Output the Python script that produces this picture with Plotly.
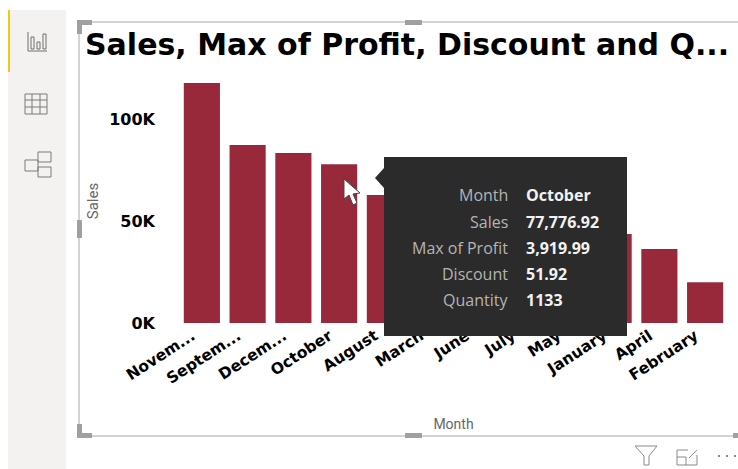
import plotly.graph_objects as go

W, H = 738, 469

months = ['Novem...', 'Septem...', 'Decem...', 'October', 'August', 'March',
          'June', 'July', 'May', 'January', 'April', 'February']
sales = [117600, 87300, 83300, 77776.92, 62800, 58000,
         52000, 47000, 45500, 43600, 36300, 20000]
y_ticks = [0, 50000, 100000]
y_tick_labels = ['0K', '50K', '100K']

tip_labels = ['Month', 'Sales', 'Max of Profit', 'Discount', 'Quantity']
tip_values = ['October', '77,776.92', '3,919.99', '51.92', '1133']

BAR = '#98293b'
GREY = '#8c8c8c'


def px(x):
    return x / W


def py(y):
    return 1 - y / H


def rect(x0, y0, x1, y1, fill=None, line=None, width=1):
    return dict(type='rect', xref='paper', yref='paper',
                x0=px(x0), y0=py(y0), x1=px(x1), y1=py(y1),
                fillcolor=fill or 'rgba(0,0,0,0)',
                line=dict(color=line or 'rgba(0,0,0,0)', width=width if line else 0))


def seg(x0, y0, x1, y1, color=GREY, width=1):
    return dict(type='line', xref='paper', yref='paper',
                x0=px(x0), y0=py(y0), x1=px(x1), y1=py(y1),
                line=dict(color=color, width=width))


def poly(points, fill=None, line=None, width=1, close=True):
    d = 'M ' + ' L '.join(f'{px(x):.5f},{py(y):.5f}' for x, y in points)
    if close:
        d += ' Z'
    return dict(type='path', xref='paper', yref='paper', path=d,
                fillcolor=fill or 'rgba(0,0,0,0)',
                line=dict(color=line or 'rgba(0,0,0,0)', width=width if line else 0))


shapes = []

# side panel
shapes.append(rect(8, 10, 66, 469, fill='#f3f2f1'))
shapes.append(rect(8, 10, 10, 72, fill='#f2c811'))

# report view icon
shapes.append(seg(28, 32, 28, 51, '#6e6e6e'))
shapes.append(seg(28, 51, 47, 51, '#6e6e6e'))
shapes.append(rect(31, 37, 34, 49, line='#6e6e6e'))
shapes.append(rect(37, 42, 40, 49, line='#6e6e6e'))
shapes.append(rect(43, 34, 46, 49, line='#6e6e6e'))

# data view icon
shapes.append(rect(25, 94, 47, 114, line='#7a7a7a'))
for gy in [100, 107]:
    shapes.append(seg(25, gy, 47, gy, '#7a7a7a'))
for gx in [32, 40]:
    shapes.append(seg(gx, 94, gx, 114, '#7a7a7a'))

# model view icon
shapes.append(rect(25, 160, 38, 171, line='#7a7a7a'))
shapes.append(rect(38, 152, 51, 162, line='#7a7a7a'))
shapes.append(rect(38, 167, 51, 177, line='#7a7a7a'))

# selection frame and handles
shapes.append(seg(79, 22, 738, 22, '#a6a6a6'))
shapes.append(seg(79, 22, 79, 436, '#a6a6a6'))
shapes.append(seg(79, 436, 738, 436, '#a6a6a6'))
shapes.append(rect(77, 20, 92, 25, fill='#a0a0a0'))
shapes.append(rect(77, 20, 82, 34, fill='#a0a0a0'))
shapes.append(rect(77, 220, 82, 238, fill='#a0a0a0'))
shapes.append(rect(77, 424, 82, 437, fill='#a0a0a0'))
shapes.append(rect(77, 433, 92, 438, fill='#a0a0a0'))
shapes.append(rect(405, 20, 422, 25, fill='#a0a0a0'))
shapes.append(rect(405, 433, 422, 438, fill='#a0a0a0'))
shapes.append(rect(733, 433, 738, 438, fill='#a0a0a0'))

# tooltip
shapes.append(rect(384, 157, 627, 336, fill='#2b2b2b'))
shapes.append(poly([(384, 168), (375, 178), (384, 188)], fill='#2b2b2b'))

# mouse pointer
shapes.append(poly([(344, 179), (344, 199), (349, 195), (353, 205), (357, 203),
                    (353, 194), (360, 193)], fill='#ffffff', line='#444444'))

# visual header icons
shapes.append(poly([(635, 446), (657, 446), (649, 456), (649, 465), (644, 465), (644, 456)],
                   line='#8a8a8a'))
shapes.append(poly([(688, 450), (677, 450), (677, 465), (697, 465), (697, 455)],
                   line='#8a8a8a', close=False))
shapes.append(seg(677, 457, 686, 457, '#8a8a8a'))
shapes.append(seg(686, 457, 686, 465, '#8a8a8a'))
shapes.append(seg(689, 458, 697, 450, '#8a8a8a'))
for dx in [719, 727, 735]:
    shapes.append(rect(dx - 1, 455, dx + 1, 457, fill='#8a8a8a'))

annotations = []
TIP_FONT = 'Open Sans, sans-serif'
for row_y, label, value in zip([195, 222, 248, 274, 300], tip_labels, tip_values):
    annotations.append(dict(xref='paper', yref='paper', x=px(510), y=py(row_y),
                            text=label, showarrow=False, xanchor='right', yanchor='middle',
                            font=dict(family=TIP_FONT, size=16, color='#b4b4b4')))
    annotations.append(dict(xref='paper', yref='paper', x=px(524), y=py(row_y),
                            text=f'<b>{value}</b>', showarrow=False, xanchor='left', yanchor='middle',
                            font=dict(family=TIP_FONT, size=16, color='#f2f2f2')))

fig = go.Figure(go.Bar(x=months, y=sales, marker=dict(color=BAR, line=dict(width=0)), width=0.79))

fig.update_layout(
    width=W,
    height=H,
    margin=dict(l=0, r=0, t=0, b=0),
    paper_bgcolor='white',
    plot_bgcolor='white',
    showlegend=False,
    title=dict(text='<b>Sales, Max of Profit, Discount and Q...</b>', automargin=False,
               x=px(85), xanchor='left', y=py(44), yanchor='middle',
               font=dict(family='DejaVu Sans', size=30, color='black')),
    xaxis=dict(domain=[px(179), px(728)], range=[-0.5, 11.5], type='category', automargin=False,
               tickangle=-33, showgrid=False, zeroline=False, showline=False, ticks='',
               ticklabelshift=-10,
               tickfont=dict(family='DejaVu Sans', size=15.5, color='black', weight='bold'),
               title=dict(text='Month', standoff=32,
                          font=dict(family='Roboto', size=14, color='#666666'))),
    yaxis=dict(domain=[py(323), py(79)], range=[0, 119600], automargin=False,
               tickvals=y_ticks, ticktext=y_tick_labels,
               showgrid=False, zeroline=False, showline=False, ticks='', ticklabelstandoff=23,
               tickfont=dict(family='DejaVu Sans', size=16, color='black', weight='bold'),
               title=dict(text='Sales', standoff=6,
                          font=dict(family='Roboto', size=15, color='#666666'))),
    shapes=shapes,
    annotations=annotations,
)

fig.write_html("out.html", config=dict(displayModeBar=False),
               post_script="document.body.style.margin='0';")
